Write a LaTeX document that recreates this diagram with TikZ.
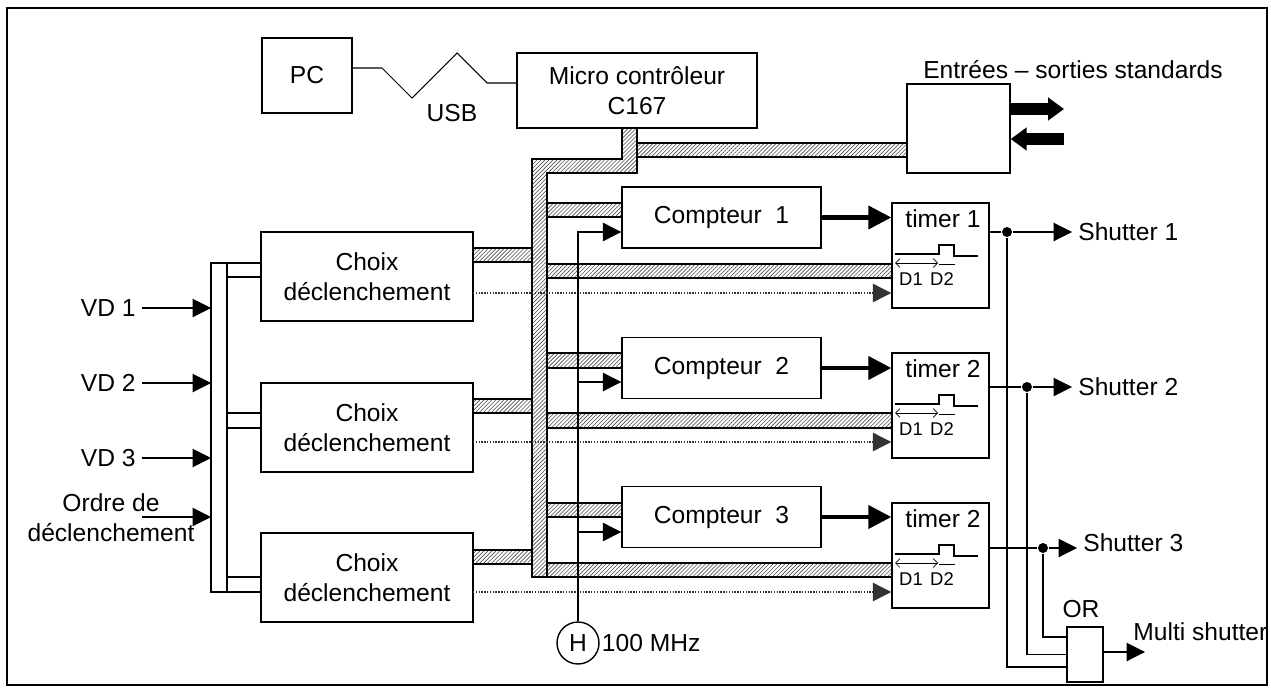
\documentclass[tikz,border=0pt]{standalone}
\usepackage{fontspec}
\setmainfont{Liberation Sans}
\usetikzlibrary{arrows.meta,patterns.meta}

\tikzset{
  box/.style={draw,line width=0.8pt,inner sep=2pt,align=center},
  bus/.style={draw,line width=0.6pt,pattern={Lines[angle=45,distance=1.6pt,line width=0.35pt]},pattern color=black!70},
  dotline/.style={line width=0.6pt,dash pattern=on 0.8pt off 0.8pt,black!80},
  fat/.style={line width=2.3pt,-{Triangle[length=13pt,width=13pt]}},
  block/.style={line width=6.8pt,-{Triangle[length=9pt,width=12.5pt]}},
  dot/.style={circle,fill,inner sep=0pt,minimum size=0.2cm},
  small/.style={font=\fontsize{10.5}{12}\selectfont,inner sep=0pt},
  pulse/.style={line width=0.6pt},
  span/.style={line width=0.4pt,{Straight Barb[length=2.5pt]}-{Straight Barb[length=2.5pt]}}
}

\begin{document}
\begin{tikzpicture}[x=0.02cm,y=-0.02cm,line width=0.6pt,>={Triangle[length=10.5pt,width=10.5pt]},font=\fontsize{14}{17}\selectfont]
\useasboundingbox (0,0) rectangle (1271,693);

% hatched buses
\path[bus] (622,128) -- (637,128) -- (637,173) -- (547,173) -- (547,577) -- (532,577) -- (532,159) -- (622,159) -- cycle;
\path[bus] (637,143) rectangle (907,157);
\path[bus] (473,248) rectangle (532,262);
\path[bus] (473,399) rectangle (532,413);
\path[bus] (473,550) rectangle (532,564);
\path[bus] (547,203) rectangle (622,217);
\path[bus] (547,353) rectangle (622,368);
\path[bus] (547,503) rectangle (622,517);
\path[bus] (547,264) rectangle (892,278);
\path[bus] (547,413) rectangle (892,428);
\path[bus] (547,563) rectangle (892,577);

% blocks
\node[box,minimum width=1.8cm,minimum height=1.5cm] (pc) at (307,75.5) {PC};
\node[box,minimum width=4.8cm,minimum height=1.5cm] (micro) at (637,90.5) {Micro contrôleur\\C167};
\node[box,minimum width=2.06cm,minimum height=1.78cm] (io) at (958.5,128.5) {};
\node (iolab) at (1073,70) {Entrées – sorties standards};

\node[box,minimum width=4.24cm,minimum height=1.78cm] (ch1) at (367,276.5) {Choix\\déclenchement};
\node[box,minimum width=4.24cm,minimum height=1.78cm] (ch2) at (367,427.5) {Choix\\déclenchement};
\node[box,minimum width=4.24cm,minimum height=1.78cm] (ch3) at (367,577.5) {Choix\\déclenchement};

\node[box,minimum width=3.98cm,minimum height=1.22cm] (cp1) at (721.5,217.5) {Compteur\ \ 1};
\node[box,minimum width=3.98cm,minimum height=1.22cm] (cp2) at (721.5,368) {Compteur\ \ 2};
\node[box,minimum width=3.98cm,minimum height=1.22cm] (cp3) at (721.5,517) {Compteur\ \ 3};

\node[box,minimum width=1.94cm,minimum height=2.1cm] (tm1) at (940.5,255.5) {};
\node[box,minimum width=1.94cm,minimum height=2.1cm] (tm2) at (940.5,405.5) {};
\node[box,minimum width=1.94cm,minimum height=2.1cm] (tm3) at (940.5,555.5) {};
\node (tl1) at (943,219) {timer 1};
\node (tl2) at (943,369) {timer 2};
\node (tl3) at (943,519) {timer 2};

\node[box,minimum width=0.72cm,minimum height=1.1cm] (orgate) at (1085,654.5) {};
\node (orlab) at (1081,609) {OR};
\node[circle,draw,line width=0.8pt,minimum size=0.84cm,inner sep=0pt] (clk) at (578,643) {H};
\node[anchor=west,inner sep=1pt] (freq) at (clk.east) {100 MHz};

% PC -- USB -- micro
\draw (pc.east |- 0,68) -- (382,68) -- (412,98) -- (457,53) -- (487,83) -- (micro.west |- 0,83);
\node (usb) at (452,113) {USB};

% standard inputs / outputs
\coordinate (ioout) at (1064,109);
\coordinate (ioin) at (1064,139);
\draw[block] (io.east |- ioout) -- (ioout);
\draw[block] (ioin) -- (io.east |- ioin);

% trigger inputs
\draw (ch1.west |- 0,263) -- (211,263) -- (211,592) -- (ch3.west |- 0,592);
\draw (227,263) -- (227,592);
\draw (227,277) -- (ch1.west |- 0,277);
\draw (227,413) -- (ch2.west |- 0,413);
\draw (227,428) -- (ch2.west |- 0,428);
\draw (227,577) -- (ch3.west |- 0,577);

\coordinate (busin) at (211,300);
\node[anchor=east] (vd1) at (142,308) {VD 1};
\node[anchor=east] (vd2) at (142,383) {VD 2};
\node[anchor=east] (vd3) at (142,458) {VD 3};
\node[align=center] (ordre) at (111,517.5) {Ordre de\\déclenchement};
\coordinate (ordin) at (142,517);
\draw[->] (vd1.east) -- (vd1.east -| busin);
\draw[->] (vd2.east) -- (vd2.east -| busin);
\draw[->] (vd3.east) -- (vd3.east -| busin);
\draw[->] (ordin) -- (ordin -| busin);

% choix -> timer
\coordinate (dt1) at (473,293);
\coordinate (dt2) at (473,442);
\coordinate (dt3) at (473,592);
\draw[dotline,->] (dt1) -- (dt1 -| tm1.west);
\draw[dotline,->] (dt2) -- (dt2 -| tm2.west);
\draw[dotline,->] (dt3) -- (dt3 -| tm3.west);

% clock
\coordinate (ck1) at (578,232);
\coordinate (ck2) at (578,382);
\coordinate (ck3) at (578,532);
\draw[->] (clk.north) -- (ck1) -- (ck1 -| cp1.west);
\draw[->] (ck2) -- (ck2 -| cp2.west);
\draw[->] (ck3) -- (ck3 -| cp3.west);

% compteur -> timer
\draw[fat] (cp1.east) -- (cp1.east -| tm1.west);
\draw[fat] (cp2.east) -- (cp2.east -| tm2.west);
\draw[fat] (cp3.east) -- (cp3.east -| tm3.west);

% timer insides
\draw[pulse] (895,254) -- (939,254) -- (939,245) -- (954,245) -- (954,256) -- (978,256);
\draw[span] (895,263) -- (938,263);
\draw[line width=0.4pt] (939,264) -- (955,264);
\node[small] (da1) at (911,279) {D1};
\node[small] (db1) at (942,279) {D2};

\draw[pulse] (895,404) -- (939,404) -- (939,395) -- (954,395) -- (954,406) -- (978,406);
\draw[span] (895,413) -- (938,413);
\draw[line width=0.4pt] (939,414) -- (955,414);
\node[small] (da2) at (911,429) {D1};
\node[small] (db2) at (942,429) {D2};

\draw[pulse] (895,554) -- (939,554) -- (939,545) -- (954,545) -- (954,556) -- (978,556);
\draw[span] (895,563) -- (938,563);
\draw[line width=0.4pt] (939,564) -- (955,564);
\node[small] (da3) at (911,579) {D1};
\node[small] (db3) at (942,579) {D2};

% shutters
\node[dot] (j1) at (1007,232) {};
\node[dot] (j2) at (1027,387) {};
\node[dot] (j3) at (1043,548) {};
\node[anchor=west] (sh1) at (1072,232) {Shutter 1};
\node[anchor=west] (sh2) at (1072,387) {Shutter 2};
\node[anchor=west] (sh3) at (1077,543) {Shutter 3};
\draw (tm1.east |- j1) -- (j1);
\draw (tm2.east |- j2) -- (j2);
\draw (tm3.east |- j3) -- (j3);
\draw[->] (j1) -- (sh1.west);
\draw[->] (j2) -- (sh2.west);
\draw[->] (j3) -- (sh3.west |- j3);

\draw (j1) |- ([yshift=-0.25cm]orgate.west);
\draw (j2) |- (orgate.west);
\draw (j3) |- ([yshift=0.35cm]orgate.west);
\coordinate (mout) at (1145,652);
\node[anchor=west] (multi) at (1127,632) {Multi shutter};
\draw[->] (orgate.east |- mout) -- (mout);

% frame
\draw[line width=0.8pt] (7,8) rectangle (1267,685);
\end{tikzpicture}
\end{document}
